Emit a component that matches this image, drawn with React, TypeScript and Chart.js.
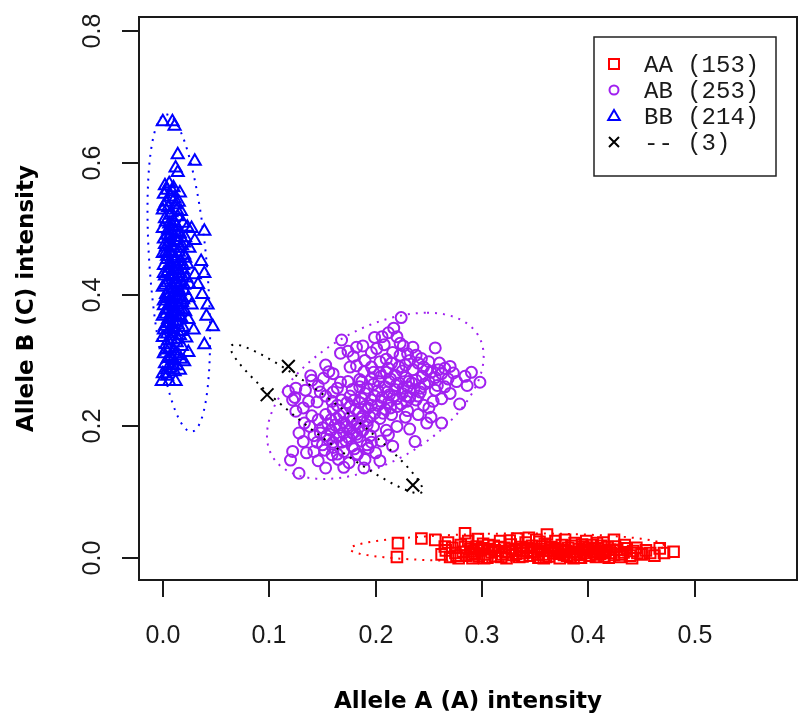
import { useEffect, useRef } from 'react';
import { Chart, registerables } from 'chart.js';

Chart.register(...registerables);

// ---- axis ranges and ticks ----
const X_MIN = -0.0224;
const X_MAX = 0.596;
const Y_MIN = -0.0329;
const Y_MAX = 0.8208;
const xTicks = [0, 0.1, 0.2, 0.3, 0.4, 0.5];
const yTicks = [0, 0.2, 0.4, 0.6, 0.8];
const xTitle = 'Allele A (A) intensity';
const yTitle = 'Allele B (C) intensity';

// ---- legend ----
const legendLabels = ['AA (153)', 'AB (253)', 'BB (214)', '-- (3)'];
const groupColors = ['#ff0000', '#a020f0', '#0000ff', '#000000'];

// ---- data (x = allele A intensity, y = allele B intensity) ----
const aaPoints = [
  [0.221,0.023],[0.220,0.002],[0.243,0.030],[0.256,0.028],[0.265,0.018],[0.284,0.038],[0.361,0.036],
  [0.480,0.010],[0.467,0.015],[0.458,0.008],[0.446,0.008],[0.424,0.028],[0.408,0.023],
  [0.262,0.006],[0.266,0.012],[0.270,0.002],[0.272,0.016],[0.275,0.008],[0.278,0.000],[0.280,0.020],
  [0.282,0.010],[0.285,0.004],[0.287,0.026],[0.289,0.014],[0.291,0.000],[0.293,0.008],[0.295,0.018],
  [0.297,0.003],[0.299,0.012],[0.301,0.022],[0.303,0.006],[0.305,0.001],[0.307,0.014],[0.309,0.009],
  [0.311,0.019],[0.313,0.003],[0.315,0.011],[0.317,0.026],[0.319,0.006],[0.321,0.016],[0.323,0.000],
  [0.325,0.010],[0.327,0.021],[0.329,0.005],[0.331,0.013],[0.333,0.030],[0.335,0.002],[0.337,0.017],
  [0.339,0.008],[0.341,0.024],[0.343,0.012],[0.345,0.004],[0.347,0.019],[0.349,0.009],[0.351,0.028],
  [0.353,0.001],[0.355,0.014],[0.357,0.006],[0.359,0.022],[0.361,0.011],[0.363,0.003],[0.365,0.017],
  [0.367,0.008],[0.369,0.026],[0.371,0.013],[0.373,0.000],[0.375,0.020],[0.377,0.005],[0.379,0.011],
  [0.381,0.016],[0.383,0.002],[0.385,0.009],[0.387,0.023],[0.389,0.006],[0.391,0.014],[0.393,0.001],
  [0.395,0.018],[0.397,0.008],[0.399,0.012],[0.401,0.004],[0.403,0.020],[0.405,0.009],[0.407,0.002],
  [0.409,0.015],[0.411,0.007],[0.413,0.011],[0.415,0.003],[0.418,0.017],[0.421,0.008],[0.424,0.005],
  [0.427,0.013],[0.430,0.002],[0.433,0.009],[0.436,0.015],[0.439,0.004],[0.442,0.011],[0.450,0.006],
  [0.454,0.012],[0.462,0.004],[0.471,0.008],
  [0.300,0.015],[0.306,0.020],[0.312,0.012],[0.318,0.002],[0.322,0.009],[0.328,0.014],[0.332,0.007],
  [0.338,0.003],[0.342,0.016],[0.346,0.010],[0.352,0.006],[0.356,0.018],[0.360,0.002],[0.364,0.012],
  [0.368,0.015],[0.372,0.007],[0.376,0.013],[0.380,0.004],[0.384,0.019],[0.388,0.010],[0.392,0.005],
  [0.396,0.013],[0.400,0.016],[0.404,0.011],[0.408,0.006],[0.412,0.019],[0.416,0.010],[0.420,0.013],
  [0.268,0.024],[0.276,0.004],[0.284,0.017],[0.292,0.011],[0.296,0.029],[0.326,0.027],[0.344,0.031],
  [0.354,0.025],[0.378,0.028],[0.398,0.026],[0.414,0.024],[0.434,0.020],[0.445,0.016],[0.425,0.018],
  [0.290,0.006],[0.302,0.000],[0.316,0.017],[0.336,0.011],[0.358,0.000],[0.374,0.010],[0.386,0.000],
  [0.394,0.021],[0.406,0.014],[0.419,0.001],[0.431,0.006],[0.441,0.000],
];

const abPoints = [
  [0.224,0.365],[0.217,0.349],[0.168,0.331],[0.199,0.335],[0.220,0.336],[0.223,0.326],[0.256,0.319],
  [0.182,0.320],[0.201,0.318],[0.235,0.320],[0.167,0.311],[0.179,0.306],[0.223,0.308],[0.243,0.303],
  [0.204,0.298],[0.182,0.292],[0.153,0.293],[0.228,0.293],[0.270,0.291],[0.265,0.288],[0.259,0.286],
  [0.273,0.281],[0.248,0.286],[0.156,0.283],[0.139,0.277],[0.189,0.283],[0.204,0.281],[0.151,0.273],
  [0.167,0.267],[0.185,0.271],[0.231,0.268],[0.298,0.267],[0.265,0.260],[0.118,0.253],[0.134,0.255],
  [0.125,0.258],[0.122,0.240],[0.148,0.252],[0.242,0.252],[0.256,0.255],[0.279,0.234],[0.254,0.238],
  [0.232,0.244],[0.132,0.228],[0.125,0.223],[0.145,0.237],[0.159,0.238],[0.248,0.205],[0.262,0.205],
  [0.237,0.177],[0.212,0.187],[0.132,0.177],[0.122,0.162],[0.120,0.149],[0.128,0.129],[0.153,0.137],
  [0.189,0.137],[0.193,0.167],[0.182,0.157],[0.159,0.157],[0.142,0.162],
  [0.210,0.302],[0.215,0.296],[0.196,0.290],[0.240,0.296],[0.225,0.284],[0.212,0.288],[0.235,0.286],
  [0.252,0.282],[0.262,0.280],[0.218,0.278],[0.244,0.276],[0.205,0.276],[0.228,0.274],[0.196,0.272],
  [0.256,0.274],[0.213,0.268],[0.238,0.270],[0.222,0.266],[0.174,0.268],[0.198,0.264],[0.246,0.264],
  [0.209,0.260],[0.230,0.260],[0.185,0.260],[0.218,0.256],[0.236,0.256],[0.202,0.254],[0.164,0.258],
  [0.225,0.250],[0.213,0.248],[0.190,0.250],[0.240,0.246],[0.176,0.246],[0.206,0.244],[0.220,0.242],
  [0.196,0.240],[0.229,0.238],[0.168,0.240],[0.212,0.236],[0.185,0.236],[0.245,0.232],[0.202,0.232],
  [0.220,0.230],[0.176,0.230],[0.193,0.228],[0.209,0.226],[0.160,0.226],[0.230,0.224],[0.184,0.222],
  [0.199,0.220],[0.170,0.220],[0.215,0.218],[0.153,0.218],[0.188,0.216],[0.176,0.214],[0.204,0.212],
  [0.163,0.212],[0.192,0.208],[0.170,0.206],[0.182,0.204],[0.155,0.204],[0.198,0.200],[0.166,0.198],
  [0.176,0.196],[0.188,0.194],[0.158,0.194],[0.170,0.190],[0.182,0.188],[0.148,0.190],[0.195,0.186],
  [0.163,0.184],[0.175,0.182],[0.156,0.180],[0.186,0.178],[0.168,0.176],[0.145,0.176],[0.178,0.170],
  [0.160,0.168],[0.192,0.172],[0.170,0.162],[0.152,0.164],[0.183,0.158],[0.165,0.150],[0.175,0.145],
  [0.200,0.160],
  [0.214,0.272],[0.226,0.258],[0.234,0.266],[0.250,0.268],[0.258,0.262],[0.242,0.258],[0.219,0.262],
  [0.203,0.268],[0.192,0.258],[0.211,0.252],[0.229,0.246],[0.238,0.240],[0.217,0.246],[0.199,0.246],
  [0.187,0.242],[0.205,0.238],[0.224,0.234],[0.214,0.228],[0.196,0.232],[0.180,0.240],[0.190,0.230],
  [0.173,0.236],[0.207,0.220],[0.181,0.226],[0.164,0.232],[0.195,0.214],[0.178,0.208],[0.186,0.212],
  [0.166,0.216],[0.158,0.210],[0.173,0.200],[0.184,0.198],[0.162,0.202],[0.192,0.202],[0.150,0.198],
  [0.166,0.186],[0.178,0.190],[0.154,0.186],[0.172,0.178],[0.183,0.184],[0.160,0.176],[0.150,0.172],
  [0.180,0.166],[0.164,0.158],[0.142,0.186],[0.138,0.200],[0.146,0.210],[0.140,0.216],[0.133,0.205],
  [0.137,0.238],[0.153,0.246],[0.160,0.252],[0.146,0.262],[0.178,0.256],[0.187,0.268],[0.198,0.282],
  [0.210,0.282],[0.222,0.290],[0.232,0.300],[0.245,0.290],[0.216,0.312],[0.230,0.310],[0.226,0.322],
  [0.208,0.324],[0.238,0.308],[0.250,0.298],[0.260,0.296],[0.268,0.272],[0.276,0.268],[0.284,0.276],
  [0.290,0.282],[0.286,0.262],[0.270,0.250],[0.262,0.242],[0.250,0.228],[0.240,0.218],[0.228,0.214],
  [0.252,0.214],[0.220,0.200],[0.232,0.196],[0.210,0.194],[0.205,0.178],[0.216,0.170],[0.196,0.176],
  [0.204,0.148],[0.190,0.150],[0.170,0.138],[0.146,0.148],[0.135,0.160],[0.128,0.190],[0.124,0.244],
  [0.140,0.270],[0.160,0.280],[0.176,0.290],[0.190,0.300],[0.196,0.312],[0.188,0.322],[0.174,0.314],
  [0.206,0.336],[0.212,0.342],
];

const bbPoints = [
  [0.000,0.662],[0.009,0.662],[0.011,0.655],[0.014,0.612],[0.030,0.602],[0.012,0.592],[0.014,0.585],
  [0.002,0.565],[0.006,0.568],[0.004,0.558],[0.009,0.556],[0.001,0.552],[0.007,0.548],[0.011,0.545],
  [0.016,0.554],[0.003,0.540],[0.012,0.536],[0.005,0.532],[0.000,0.528],[0.017,0.526],[0.008,0.524],
  [0.014,0.518],[0.002,0.515],[0.010,0.512],[0.006,0.507],[0.019,0.508],[0.023,0.502],[0.013,0.503],
  [0.000,0.500],[0.027,0.500],[0.039,0.496],[0.008,0.496],[0.016,0.492],[0.004,0.490],[0.011,0.487],
  [0.021,0.486],[0.001,0.484],[0.007,0.480],[0.014,0.478],[0.030,0.482],[0.018,0.474],[0.003,0.472],
  [0.010,0.470],[0.025,0.470],[0.006,0.466],[0.015,0.464],[0.000,0.462],[0.020,0.460],[0.009,0.458],
  [0.012,0.455],[0.004,0.453],[0.036,0.450],[0.017,0.450],[0.007,0.447],[0.023,0.446],[0.001,0.444],
  [0.013,0.442],[0.010,0.438],[0.019,0.437],[0.005,0.435],[0.030,0.430],[0.039,0.432],[0.015,0.432],
  [0.002,0.428],[0.008,0.426],[0.022,0.425],[0.012,0.422],[0.017,0.419],[0.004,0.418],[0.025,0.415],
  [0.033,0.415],[0.009,0.414],[0.000,0.411],[0.014,0.410],[0.006,0.407],[0.020,0.406],[0.011,0.403],
  [0.037,0.400],[0.003,0.400],[0.016,0.398],[0.008,0.396],[0.024,0.395],[0.013,0.392],[0.001,0.390],
  [0.018,0.388],[0.042,0.384],[0.027,0.384],[0.006,0.385],[0.010,0.381],[0.015,0.378],[0.003,0.376],
  [0.021,0.374],[0.008,0.372],[0.012,0.369],[0.041,0.367],[0.000,0.367],[0.017,0.365],[0.005,0.362],
  [0.024,0.362],[0.010,0.358],[0.014,0.354],[0.047,0.351],[0.002,0.352],[0.019,0.350],[0.007,0.347],
  [0.029,0.346],[0.011,0.343],[0.004,0.340],[0.016,0.338],[0.000,0.335],[0.022,0.334],[0.008,0.331],
  [0.013,0.327],[0.039,0.324],[0.003,0.324],[0.018,0.321],[0.006,0.318],[0.010,0.314],[0.024,0.312],
  [0.001,0.310],[0.015,0.307],[0.005,0.303],[0.020,0.298],[0.009,0.300],[0.002,0.295],[0.013,0.292],
  [0.007,0.288],[0.011,0.283],[0.000,0.280],[0.004,0.276],[-0.001,0.268],[0.006,0.268],[0.012,0.268],
  [0.016,0.285],
  [0.005,0.498],[0.012,0.494],[0.002,0.476],[0.008,0.462],[0.016,0.470],[0.004,0.458],[0.011,0.449],
  [0.019,0.444],[0.006,0.440],[0.014,0.436],[0.001,0.432],[0.009,0.430],[0.018,0.428],[0.005,0.422],
  [0.013,0.418],[0.020,0.414],[0.002,0.414],[0.010,0.409],[0.007,0.402],[0.016,0.404],[0.004,0.394],
  [0.012,0.398],[0.019,0.392],[0.009,0.388],[0.001,0.383],[0.014,0.384],[0.006,0.378],[0.018,0.376],
  [0.011,0.374],[0.003,0.370],[0.008,0.365],[0.015,0.368],[0.013,0.360],[0.006,0.356],[0.001,0.346],
  [0.010,0.350],[0.017,0.344],[0.009,0.337],[0.005,0.330],[0.014,0.332],[0.012,0.310],[0.008,0.306],
  [0.003,0.316],[0.017,0.302],[0.010,0.292],[0.004,0.286],[0.007,0.520],[0.013,0.528],[0.003,0.510],
  [0.009,0.504],[0.015,0.540],[0.010,0.562],[0.001,0.534],[0.006,0.488],[0.013,0.482],[0.020,0.478],
  [0.009,0.474],[0.017,0.486],[0.003,0.464],[0.021,0.455],
];

const nnPoints = [[0.118,0.291],[0.098,0.248],[0.235,0.111]];

// ---- cluster ellipses: [centre x, centre y, axis1 x, axis1 y, axis2 x, axis2 y] ----
const aaEllipse = [0.3235, 0.0166, 0.1475, 0.0025, 0, 0.021];
const abEllipse = [0.1997, 0.2463, 0.0486, 0.126, 0.0895, 0];
const bbEllipse = [0.015, 0.4325, -0.0117, 0.2405, 0.027, 0];
const nnEllipse = [0.1539, 0.2114, 0.0897, -0.1108, -0.0099, -0.0211];

const groups = [
  { points: aaPoints, ellipse: aaEllipse, style: 'rect', radius: 7.5 },
  { points: abPoints, ellipse: abEllipse, style: 'circle', radius: 5.5 },
  { points: bbPoints, ellipse: bbEllipse, style: 'triangle', radius: 7 },
  { points: nnPoints, ellipse: nnEllipse, style: 'crossRot', radius: 9 },
];

function drawMarker(ctx: CanvasRenderingContext2D, kind: number, x: number, y: number) {
  ctx.beginPath();
  if (kind === 0) {
    ctx.rect(x - 5, y - 5, 10, 10);
  } else if (kind === 1) {
    ctx.arc(x, y, 4.5, 0, Math.PI * 2);
  } else if (kind === 2) {
    ctx.moveTo(x, y - 6);
    ctx.lineTo(x + 5.8, y + 4);
    ctx.lineTo(x - 5.8, y + 4);
    ctx.closePath();
  } else {
    ctx.moveTo(x - 5, y - 5);
    ctx.lineTo(x + 5, y + 5);
    ctx.moveTo(x + 5, y - 5);
    ctx.lineTo(x - 5, y + 5);
  }
  ctx.stroke();
}

const decorPlugin = {
  id: 'rDecor',
  afterDatasetsDraw(chart: any) {
    const ctx: CanvasRenderingContext2D = chart.ctx;
    const xs = chart.scales.x;
    const ys = chart.scales.y;
    // ellipses
    ctx.save();
    ctx.lineWidth = 2;
    ctx.setLineDash([2, 6]);
    groups.forEach((g, gi) => {
      const [cx, cy, ux, uy, vx, vy] = g.ellipse;
      ctx.strokeStyle = groupColors[gi];
      ctx.beginPath();
      const n = 160;
      for (let i = 0; i <= n; i++) {
        const t = (i / n) * Math.PI * 2;
        const px = xs.getPixelForValue(cx + ux * Math.cos(t) + vx * Math.sin(t));
        const py = ys.getPixelForValue(cy + uy * Math.cos(t) + vy * Math.sin(t));
        if (i === 0) ctx.moveTo(px, py);
        else ctx.lineTo(px, py);
      }
      ctx.stroke();
    });
    ctx.restore();
  },
  afterDraw(chart: any) {
    const ctx: CanvasRenderingContext2D = chart.ctx;
    const a = chart.chartArea;
    const xs = chart.scales.x;
    const ys = chart.scales.y;
    ctx.save();
    ctx.setLineDash([]);
    ctx.strokeStyle = '#1a1a1a';
    ctx.lineWidth = 2;
    ctx.strokeRect(a.left, a.top, a.right - a.left, a.bottom - a.top);
    // x ticks
    ctx.fillStyle = '#1a1a1a';
    ctx.font = '25px "Liberation Sans", Arial, sans-serif';
    ctx.textAlign = 'center';
    ctx.textBaseline = 'alphabetic';
    xTicks.forEach((v) => {
      const px = Math.round(xs.getPixelForValue(v));
      ctx.beginPath();
      ctx.moveTo(px, a.bottom);
      ctx.lineTo(px, a.bottom + 17);
      ctx.stroke();
      ctx.fillText(v.toFixed(1), px, a.bottom + 63);
    });
    // y ticks
    yTicks.forEach((v) => {
      const py = Math.round(ys.getPixelForValue(v));
      ctx.beginPath();
      ctx.moveTo(a.left, py);
      ctx.lineTo(a.left - 17, py);
      ctx.stroke();
      ctx.save();
      ctx.translate(a.left - 39, py);
      ctx.rotate(-Math.PI / 2);
      ctx.fillText(v.toFixed(1), 0, 0);
      ctx.restore();
    });
    // axis titles
    ctx.fillStyle = '#000';
    ctx.font = 'bold 23px "DejaVu Sans", sans-serif';
    ctx.fillText(xTitle, (a.left + a.right) / 2, 708);
    ctx.save();
    ctx.translate(33, (a.top + a.bottom) / 2);
    ctx.rotate(-Math.PI / 2);
    ctx.fillText(yTitle, 0, 0);
    ctx.restore();
    // legend
    ctx.lineWidth = 1.5;
    ctx.strokeStyle = '#222';
    ctx.strokeRect(594, 37, 182, 139);
    ctx.font = '24px "Liberation Mono", "DejaVu Sans Mono", monospace';
    ctx.textAlign = 'left';
    legendLabels.forEach((lab, i) => {
      const ry = 64 + i * 26;
      ctx.strokeStyle = groupColors[i];
      ctx.lineWidth = 2;
      drawMarker(ctx, i, 614, ry);
      ctx.fillStyle = '#1a1a1a';
      ctx.fillText(lab, 644, ry + 8);
    });
    ctx.restore();
  },
};

export default function App() {
  const ref = useRef<HTMLCanvasElement | null>(null);
  useEffect(() => {
    if (!ref.current) return;
    const chart = new Chart(ref.current, {
      type: 'scatter',
      data: {
        datasets: groups.map((g, gi) => ({
          label: legendLabels[gi],
          data: g.points.map(([x, y]) => ({ x, y })),
          pointStyle: g.style as any,
          pointRadius: g.radius,
          pointBorderWidth: 2,
          borderColor: groupColors[gi],
          backgroundColor: 'rgba(0,0,0,0)',
          showLine: false,
          order: gi === 3 ? 0 : 4 - gi,
        })),
      },
      options: {
        responsive: false,
        animation: false,
        devicePixelRatio: 1,
        layout: { padding: { left: 139, top: 17, right: 7, bottom: 141 } },
        plugins: { legend: { display: false }, tooltip: { enabled: false } },
        events: [],
        scales: {
          x: { type: 'linear', display: false, min: X_MIN, max: X_MAX },
          y: { type: 'linear', display: false, min: Y_MIN, max: Y_MAX },
        },
      },
      plugins: [decorPlugin],
    });
    return () => chart.destroy();
  }, []);
  return (
    <div style={{ position: 'absolute', left: 0, top: 0, width: 808, height: 721, background: '#fff' }}>
      <canvas ref={ref} width={808} height={721} />
    </div>
  );
}
